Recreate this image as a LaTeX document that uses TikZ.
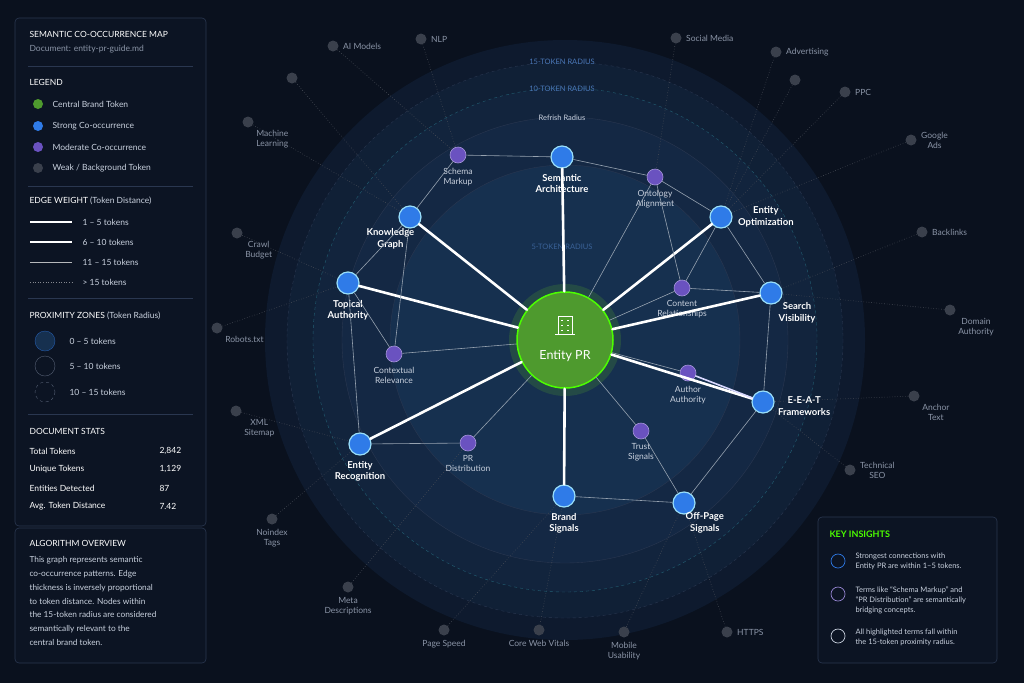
\documentclass[tikz,border=0pt]{standalone}
\usepackage{fontspec}
\setmainfont{Lato}
\usetikzlibrary{positioning}
\definecolor{bgc}{HTML}{0A111E}
\definecolor{panel}{HTML}{0C1423}
\definecolor{frame}{HTML}{2A3750}
\definecolor{strong}{HTML}{2F7BE8}
\definecolor{moder}{HTML}{6A52C0}
\definecolor{weak}{HTML}{3A404C}
\definecolor{brand}{HTML}{4E9A2E}
\definecolor{txt}{HTML}{C9D1DE}
\definecolor{dim}{HTML}{8A94A6}
\definecolor{ringlbl}{HTML}{4A78B8}
\definecolor{zonea}{HTML}{0E1A2E}
\definecolor{zoneb}{HTML}{102036}
\definecolor{zonec}{HTML}{12243D}
\definecolor{zoned}{HTML}{142844}
\definecolor{zonee}{HTML}{16304F}
\tikzset{
  strongnode/.style={circle, fill=strong, draw=cyan!40, line width=1.2pt, minimum size=22pt, inner sep=0pt},
  modnode/.style={circle, fill=moder, draw=moder!60!white, line width=0.6pt, minimum size=16pt, inner sep=0pt},
  weaknode/.style={circle, fill=weak, minimum size=11pt, inner sep=0pt},
  lbl/.style={text=txt, font=\fontsize{8.5}{10}\selectfont, align=center},
  blbl/.style={text=white, font=\bfseries\fontsize{9.5}{11.5}\selectfont, align=center},
  glbl/.style={text=dim, font=\fontsize{8.5}{10}\selectfont, align=center},
  wa/.style={white, line width=2.6pt, line cap=round},
  wb/.style={white!85!blue, line width=1.6pt, line cap=round},
  wc/.style={white!55!zonee, line width=0.6pt},
  wd/.style={white!25!bgc, line width=0.6pt, dotted},
  panelbox/.style={draw=frame, fill=panel, rounded corners=4pt, line width=0.6pt},
  head/.style={text=white, font=\fontsize{8.5}{10}\selectfont, anchor=west},
  row/.style={text=txt, font=\fontsize{8.5}{10}\selectfont, anchor=west}
}
\begin{document}
\begin{tikzpicture}[x=1pt, y=-1pt]
    \useasboundingbox (0,0) rectangle (1024,683);
    \fill[bgc] (0,0) rectangle (1024,683);

    % Proximity zones
    \fill[zonea] (565,340) circle (300);
    \draw[frame, dashed, fill=zoneb] (565,340) circle (278);
    \draw[frame!80!cyan, dashed, fill=zonec] (565,340) circle (252);
    \draw[frame, fill=zoned] (565,340) circle (223);
    \draw[frame, fill=zonee] (565,340) circle (175);
    \node[text=ringlbl, font=\fontsize{7.5}{8}\selectfont] at (562,62) {15-TOKEN RADIUS};
    \node[text=ringlbl, font=\fontsize{7.5}{8}\selectfont] at (562,89) {10-TOKEN RADIUS};
    \node[text=txt, font=\fontsize{7.5}{8}\selectfont] at (562,118) {Refrish Radius};
    \node[text=ringlbl!70!zonee, font=\fontsize{7.5}{8}\selectfont] at (562,247) {5-TOKEN RADIUS};

    % Central brand token
    \fill[brand, opacity=0.25] (565,340) circle (56);
    \node[circle, fill=brand, draw=green!70!yellow, line width=1.5pt, minimum size=96pt] (epr) at (565,340) {};
    \node[text=white, font=\fontsize{12.5}{14}\selectfont] at (565,356) {Entity PR};
    \draw[white, line width=0.8pt] (558,334) rectangle (572,316) (555,334) -- (575,334);
    \foreach \yy in {320,325,330} \draw[white, line width=0.8pt] (561,\yy) -- (563,\yy) (567,\yy) -- (569,\yy);

    % Strong co-occurrence
    \node[strongnode] (sa) at (562,157) {};
    \node[strongnode] (kg) at (410,217) {};
    \node[strongnode] (eo) at (721,217) {};
    \node[strongnode] (ta) at (348,283) {};
    \node[strongnode] (sv) at (771,293) {};
    \node[strongnode] (eeat) at (763,402) {};
    \node[strongnode] (er) at (360,444) {};
    \node[strongnode] (bs) at (564,496) {};
    \node[strongnode] (ops) at (684,503) {};
    \node[blbl, below=2pt of sa] {Semantic\\Architecture};
    \node[blbl, below left=0pt and -16pt of kg] {Knowledge\\Graph};
    \node[blbl, right=2pt of eo] {Entity\\Optimization};
    \node[blbl, below=2pt of ta] {Topical\\Authority};
    \node[blbl, below right=-2pt and -4pt of sv] {Search\\Visibility};
    \node[blbl, right=0pt of eeat, yshift=-4pt] {E-E-A-T\\Frameworks};
    \node[blbl, below=2pt of er] {Entity\\Recognition};
    \node[blbl, below=2pt of bs] {Brand\\Signals};
    \node[blbl, below right=-2pt and -10pt of ops] {Off-Page\\Signals};

    % Moderate co-occurrence
    \node[modnode] (sm) at (458,155) {};
    \node[modnode] (oa) at (655,177) {};
    \node[modnode] (cr) at (682,288) {};
    \node[modnode] (cx) at (394,354) {};
    \node[modnode] (aa) at (688,373) {};
    \node[modnode] (prd) at (468,443) {};
    \node[modnode] (ts) at (641,431) {};
    \node[lbl, below=1pt of sm] {Schema\\Markup};
    \node[lbl, below=1pt of oa] {Ontology\\Alignment};
    \node[lbl, below=1pt of cr] {Content\\Relationships};
    \node[lbl, below=1pt of cx] {Contextual\\Relevance};
    \node[lbl, below=1pt of aa] {Author\\Authority};
    \node[lbl, below=1pt of prd] {PR\\Distribution};
    \node[lbl, below=1pt of ts] {Trust\\Signals};

    % Weak / background tokens
    \foreach \n/\x/\y/\t/\p in {
      aim/333/46/AI Models/right, nlp/421/39/NLP/right, som/676/38/Social Media/right,
      adv/776/52/Advertising/right, ppc/845/92/PPC/right, gad/911/140/Google\\Ads/right,
      bl/922/232/Backlinks/right, da/950/310/Domain\\Authority/below right, at/914/396/Anchor\\Text/below right,
      ts2/850/470/Technical\\SEO/right, htt/727/632/HTTPS/right, mu/624/632/Mobile\\Usability/below,
      cwv/539/630/Core Web Vitals/below, ps/444/630/Page Speed/below, md/348/587/Meta\\Descriptions/below,
      nt/272/519/Noindex\\Tags/below, xml/236/411/XML\\Sitemap/below right, rob/217/328/Robots.txt/below right,
      cb/237/233/Crawl\\Budget/below right, ml/248/122/Machine\\Learning/below right}
      {\node[weaknode] (\n) at (\x,\y) {};
       \node[glbl, \p=1pt of \n] {\t};}
    \node[weaknode] (g1) at (292,78) {};
    \node[weaknode] (g2) at (795,80) {};

    % Edges to the brand token
    \foreach \b in {sa,kg,eo,ta,sv,eeat,er,bs}
      \draw[wa] (epr) -- (\b);
    \foreach \m in {cx,cr,aa,prd,ts,oa}
      \draw[wc] (epr) -- (\m);
    \draw[wb] (aa) -- (eeat);

    % Ring edges
    \draw[wc] (sm) -- (sa) -- (oa) -- (eo) -- (sv) -- (eeat) -- (ops) -- (bs);
    \draw[wc] (kg) -- (sm) (kg) -- (ta) (ta) -- (er) (er) -- (prd) (cx) -- (ta)
              (cr) -- (sv) (cr) -- (eo) (ts) -- (ops) (kg) -- (cx) (oa) -- (cr);
    \foreach \a/\b in {ml/kg,cb/ta,rob/ta,xml/er,nt/er,md/prd,ps/bs,cwv/bs,mu/ops,htt/ops,
                       ts2/eeat,at/eeat,da/sv,bl/sv,gad/eo,ppc/eo,adv/eo,som/oa,nlp/sm,aim/sm,g1/kg,g2/eo}
      \draw[wd] (\a) -- (\b);

    % Left panel
    \draw[panelbox] (15,18) rectangle (206,526);
    \node[head] at (26,34) {SEMANTIC CO-OCCURRENCE MAP};
    \node[row, text=dim] at (26,49) {Document: entity-pr-guide.md};
    \draw[frame] (28,66) -- (193,66);
    \node[head] at (26,82) {LEGEND};
    \foreach \c/\t/\y in {brand/Central Brand Token/104, strong/Strong Co-occurrence/126,
                          moder/Moderate Co-occurrence/147, weak/{Weak / Background Token}/168}
      {\fill[\c] (38,\y) circle (5);
       \node[row] at (49,\y) {\t};}
    \draw[frame] (28,186) -- (193,186);
    \node[head] at (26,201) {EDGE WEIGHT {\color{txt}(Token Distance)}};
    \draw[white, line width=2.5pt] (30,222) -- (72,222);
    \draw[white, line width=1.6pt] (30,242) -- (72,242);
    \draw[white!70!bgc, line width=0.6pt] (30,262) -- (72,262);
    \draw[white!50!bgc, line width=0.6pt, dotted] (30,282) -- (72,282);
    \foreach \t/\y in {1 – 5 tokens/222, 6 – 10 tokens/242, 11 – 15 tokens/262, > 15 tokens/282}
      \node[row] at (79,\y) {\t};
    \draw[frame] (28,298) -- (193,298);
    \node[head] at (26,316) {PROXIMITY ZONES {\color{txt}(Token Radius)}};
    \draw[strong!70!bgc, fill=zonee] (45,341) circle (10);
    \draw[frame!80!white, fill=panel] (45,366) circle (10);
    \draw[frame!80!white, dashed, fill=panel] (45,392) circle (10);
    \foreach \t/\y in {0 – 5 tokens/341, 5 – 10 tokens/366, 10 – 15 tokens/392}
      \node[row] at (66,\y) {\t};
    \draw[frame] (28,414) -- (193,414);
    \node[head] at (26,431) {DOCUMENT STATS};
    \foreach \t/\v/\y in {Total Tokens/{2,842}/451, Unique Tokens/{1,129}/469, Entities Detected/87/488, Avg. Token Distance/7.42/506}
      {\node[row, text=white] at (26,\y) {\t};
       \node[row, text=white] at (156,\y) {\v};}

    % Algorithm overview
    \draw[panelbox] (15,528) rectangle (206,663);
    \node[head] at (26,543) {ALGORITHM OVERVIEW};
    \node[row, anchor=north west, align=left, font=\fontsize{8.3}{13.8}\selectfont] at (26,553)
      {This graph represents semantic\\co-occurrence patterns. Edge\\thickness is inversely proportional\\to token distance. Nodes within\\the 15-token radius are considered\\semantically relevant to the\\central brand token.};

    % Key insights
    \draw[panelbox] (818,517) rectangle (997,663);
    \node[head, text=green!70!yellow, font=\bfseries\fontsize{9}{10}\selectfont] at (826,534) {KEY INSIGHTS};
    \draw[strong, line width=0.7pt] (838,561) circle (7);
    \draw[moder!70!white, line width=0.7pt] (838,594) circle (7);
    \draw[txt, line width=0.7pt] (838,636) circle (7);
    \node[row, anchor=north west, align=left, font=\fontsize{7.5}{10}\selectfont] at (852,549)
      {Strongest connections with\\Entity PR are within 1–5 tokens.};
    \node[row, anchor=north west, align=left, font=\fontsize{7.5}{10}\selectfont] at (852,583)
      {Terms like “Schema Markup” and\\“PR Distribution” are semantically\\bridging concepts.};
    \node[row, anchor=north west, align=left, font=\fontsize{7.5}{10}\selectfont] at (852,625)
      {All highlighted terms fall within\\the 15-token proximity radius.};
\end{tikzpicture}
\end{document}
